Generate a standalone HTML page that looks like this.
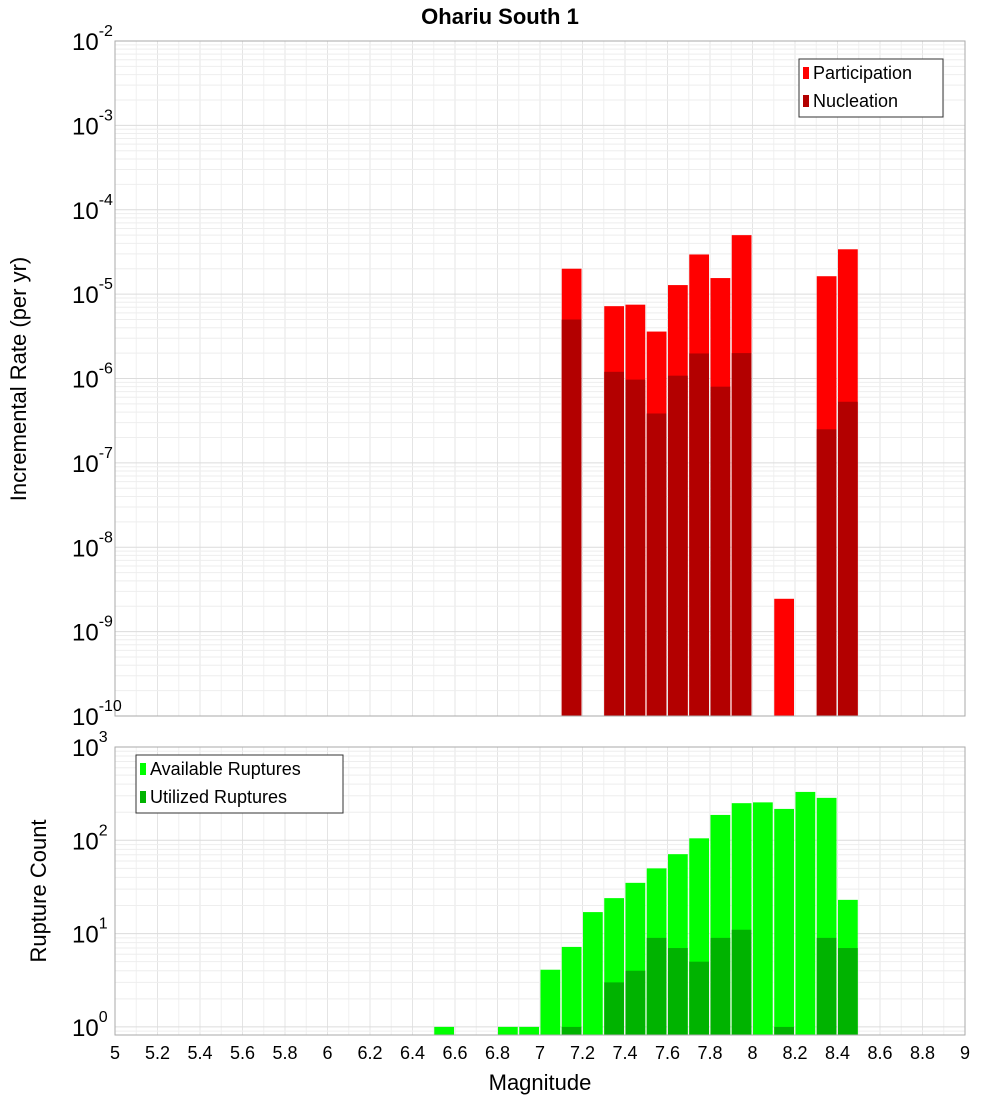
<!DOCTYPE html>
<html><head><meta charset="utf-8"><style>body{margin:0;background:#fff}svg{display:block;font-family:"Liberation Sans","DejaVu Sans",sans-serif}</style></head>
<body>
<svg id="c" width="1000" height="1100" xmlns="http://www.w3.org/2000/svg">
<text x="500" y="24" text-anchor="middle" font-size="22" font-weight="bold">Ohariu South 1</text>
<g id="g"></g>
</svg>
<script>
const topMags=[7.1,7.3,7.4,7.5,7.6,7.7,7.8,7.9,8.1,8.3,8.4];
const participation=[2e-5,7.2e-6,7.5e-6,3.6e-6,1.28e-5,2.95e-5,1.55e-5,5e-5,2.45e-9,1.63e-5,3.4e-5];
const nucleation=[5e-6,1.2e-6,9.7e-7,3.85e-7,1.08e-6,1.98e-6,8e-7,2e-6,0,2.5e-7,5.3e-7];
const botMags=[6.5,6.8,6.9,7.0,7.1,7.2,7.3,7.4,7.5,7.6,7.7,7.8,7.9,8.0,8.1,8.2,8.3,8.4];
const available=[1,1,1,4.1,7.2,17,24,35,50,71,105,187,250,255,217,330,285,23];
const utilized=[0,0,0,0,1,0,3,4,9,7,5,9,11,0,1,0,9,7];
const xTicks=[5,5.2,5.4,5.6,5.8,6,6.2,6.4,6.6,6.8,7,7.2,7.4,7.6,7.8,8,8.2,8.4,8.6,8.8,9];

const NS="http://www.w3.org/2000/svg",g=document.getElementById('g');
function mk(t,a,p){const e=document.createElementNS(NS,t);for(const k in a)e.setAttribute(k,a[k]);(p||g).appendChild(e);return e;}
const L=115,R=965;
const x=m=>L+(m-5)*(R-L)/4;
const T={top:41,bot:716,hi:-2,lo:-10};
const yT=v=>T.top+(T.hi-Math.log10(v))*(T.bot-T.top)/(T.hi-T.lo);
const B={top:747,bot:1035,dec:93.3};
const yB=v=>B.top+(3-Math.log10(v))*B.dec;

function grid(top,bot,yf,d0,d1){
  for(let m=5;m<=9.001;m+=0.1){const l=mk('line',{x1:x(m),x2:x(m),y1:top,y2:bot,stroke:Math.round(m*10)%2==0?'#e4e4e4':'#f0f0f0','stroke-width':1});}
  for(let d=d0;d<=d1;d++)for(let k=1;k<10;k++){const yy=yf(k*Math.pow(10,d));if(yy<top-0.5||yy>bot+0.5)continue;const l=mk('line',{x1:L,x2:R,y1:yy,y2:yy,stroke:k==1?'#dcdcdc':'#eeeeee','stroke-width':1});}
}
grid(T.top,T.bot,yT,-10,-2);
grid(B.top,B.bot,yB,-1,3);
const bw=(R-L)/40;
topMags.forEach((m,i)=>{
  let r=mk('rect',{x:x(m)+0.5,width:bw-1.5,y:yT(participation[i]),height:T.bot-yT(participation[i]),fill:'#ff0000'});
  
  if(nucleation[i]>0){r=mk('rect',{x:x(m)+0.5,width:bw-1.5,y:yT(nucleation[i]),height:T.bot-yT(nucleation[i]),fill:'#b30000'});
  }
});
botMags.forEach((m,i)=>{
  let r=mk('rect',{x:x(m)+0.5,width:bw-1.5,y:yB(available[i]),height:B.bot-yB(available[i]),fill:'#00ff00'});
  
  if(utilized[i]>0){r=mk('rect',{x:x(m)+0.5,width:bw-1.5,y:yB(utilized[i]),height:B.bot-yB(utilized[i]),fill:'#00b300'});
  }
});
[[T.top,T.bot],[B.top,B.bot]].forEach(p=>{const r=mk('rect',{x:L,y:p[0],width:R-L,height:p[1]-p[0],fill:'none',stroke:'#aaa'});});
function ylab(yy,e,nm){const t=mk('text',{x:105,y:yy+9,'text-anchor':'end','font-size':24});
  t.textContent='10';const s=document.createElementNS(NS,'tspan');s.setAttribute('dy','-14');s.setAttribute('font-size','16');s.textContent=e;t.appendChild(s);
  t.setAttribute('text-anchor','start');t.setAttribute('x',72);}
for(let d=-2;d>=-10;d--)ylab(yT(Math.pow(10,d)),String(d),'top-y-tick-label');
for(let d=3;d>=0;d--)ylab(yB(Math.pow(10,d)),String(d),'bottom-y-tick-label');
xTicks.forEach(v=>{const t=mk('text',{x:x(v),y:1059,'text-anchor':'middle','font-size':18});t.textContent=String(v);});
let t=mk('text',{x:540,y:1090,'text-anchor':'middle','font-size':22});t.textContent='Magnitude';
t=mk('text',{x:0,y:0,'text-anchor':'middle','font-size':22,transform:'translate(26,379) rotate(-90)'});t.textContent='Incremental Rate (per yr)';
t=mk('text',{x:0,y:0,'text-anchor':'middle','font-size':22,transform:'translate(46,891) rotate(-90)'});t.textContent='Rupture Count';
function legend(x0,y0,w,items,nm){const gg=mk('g',{});
  mk('rect',{x:x0,y:y0,width:w,height:58,fill:'#fff',stroke:'#333'},gg);
  items.forEach((it,i)=>{mk('rect',{x:x0+4,y:y0+8+i*28,width:6,height:12,fill:it[1]},gg);const tt=mk('text',{x:x0+14,y:y0+20+i*28,'font-size':18},gg);tt.textContent=it[0];});}
legend(799,59,144,[['Participation','#ff0000'],['Nucleation','#b30000']],'top-legend');
legend(136,755,207,[['Available Ruptures','#00ff00'],['Utilized Ruptures','#00b300']],'bottom-legend');
</script>
</body></html>
